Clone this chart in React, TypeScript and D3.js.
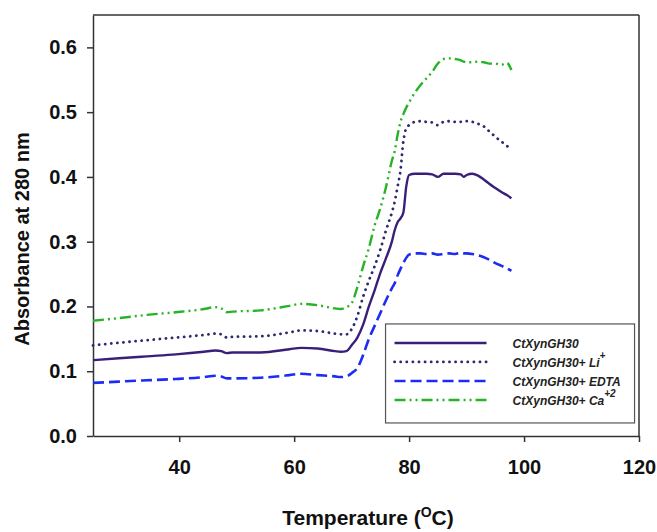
import React, { useEffect, useRef } from "react";
import * as d3 from "d3";

// temperature grid shared by every trace (degrees C)
const temps = [25, 29.5, 34.4, 39.4, 44.3, 46.3, 47.3, 48.3, 49.3, 54.2, 59.2, 61.2, 64.1, 67.1, 68.1, 69.1, 70, 71, 72, 73, 74, 75, 76, 77, 77.5, 78, 78.5, 79, 79.5, 80, 81, 82, 83, 84, 85, 86, 87, 88, 89, 89.5, 90, 91, 92, 93, 94, 95, 96, 97, 97.8];

const absNative = [0.117, 0.120, 0.123, 0.126, 0.130, 0.132, 0.131, 0.128, 0.129, 0.129, 0.134, 0.136, 0.135, 0.131, 0.130, 0.131, 0.140, 0.152, 0.172, 0.200, 0.225, 0.252, 0.275, 0.300, 0.318, 0.330, 0.336, 0.345, 0.385, 0.403, 0.405, 0.405, 0.405, 0.404, 0.400, 0.405, 0.405, 0.405, 0.404, 0.400, 0.403, 0.405, 0.402, 0.396, 0.389, 0.383, 0.377, 0.372, 0.367];
const absLi = [0.140, 0.144, 0.148, 0.152, 0.156, 0.158, 0.157, 0.152, 0.153, 0.154, 0.160, 0.163, 0.162, 0.158, 0.157, 0.157, 0.165, 0.185, 0.215, 0.240, 0.262, 0.288, 0.318, 0.345, 0.362, 0.385, 0.410, 0.455, 0.475, 0.480, 0.485, 0.486, 0.485, 0.484, 0.480, 0.485, 0.486, 0.485, 0.485, 0.486, 0.486, 0.485, 0.482, 0.478, 0.470, 0.462, 0.455, 0.448, 0.442];
const absEdta = [0.082, 0.084, 0.086, 0.088, 0.091, 0.093, 0.092, 0.089, 0.089, 0.090, 0.094, 0.096, 0.094, 0.092, 0.091, 0.092, 0.097, 0.105, 0.125, 0.150, 0.170, 0.190, 0.210, 0.228, 0.236, 0.248, 0.258, 0.267, 0.275, 0.280, 0.282, 0.282, 0.281, 0.282, 0.280, 0.281, 0.282, 0.281, 0.283, 0.282, 0.282, 0.281, 0.279, 0.276, 0.272, 0.267, 0.263, 0.259, 0.255];
const absCa = [0.178, 0.182, 0.187, 0.191, 0.196, 0.199, 0.197, 0.191, 0.192, 0.194, 0.201, 0.204, 0.202, 0.197, 0.196, 0.199, 0.205, 0.230, 0.262, 0.290, 0.325, 0.352, 0.385, 0.425, 0.440, 0.465, 0.485, 0.497, 0.507, 0.515, 0.530, 0.542, 0.552, 0.562, 0.575, 0.582, 0.583, 0.582, 0.580, 0.578, 0.577, 0.577, 0.578, 0.577, 0.575, 0.575, 0.573, 0.576, 0.565];

const xTicks = [40, 60, 80, 100, 120];
const yTicks = [0, 0.1, 0.2, 0.3, 0.4, 0.5, 0.6];

const seriesNames = ["CtXynGH30", "CtXynGH30+ Li", "CtXynGH30+ EDTA", "CtXynGH30+ Ca"];
const seriesSup = ["", "+", "", "+2"];

const App = () => {
  const ref = useRef<SVGSVGElement>(null);
  const W = 657, H = 532;
  const margin = { top: 15, right: 18, bottom: 96, left: 93 };

  useEffect(() => {
    const svg = d3.select(ref.current);
    svg.selectAll("*").remove();
    const width = W - margin.left - margin.right;
    const height = H - margin.top - margin.bottom;
    const font = "Arial, 'Liberation Sans', sans-serif";

    const x = d3.scaleLinear().domain([25, 120]).range([0, width]);
    const y = d3.scaleLinear().domain([0, 0.65]).range([height, 0]);

    const g = svg.append("g").attr("transform", `translate(${margin.left},${margin.top})`);

    // frame on top and right
    g.append("line").attr("x1", 0).attr("x2", width).attr("y1", 0).attr("y2", 0)
      .style("stroke", "#333").style("stroke-width", 1.5);
    g.append("line").attr("x1", width).attr("x2", width).attr("y1", 0).attr("y2", height)
      .style("stroke", "#333").style("stroke-width", 1.5);

    const xAxis = g.append("g").attr("transform", `translate(0,${height})`)
      .call(d3.axisBottom(x).tickValues(xTicks).tickSize(6).tickSizeOuter(0).tickPadding(18).tickFormat(d3.format("d")));
    const yAxis = g.append("g")
      .call(d3.axisLeft(y).tickValues(yTicks).tickSize(6).tickSizeOuter(0).tickPadding(10).tickFormat(d3.format(".1f")));

    [xAxis, yAxis].forEach(ax => {
      ax.select(".domain").style("stroke", "#333").style("stroke-width", 1.5);
      ax.selectAll(".tick line").style("stroke", "#333").style("stroke-width", 1.5);
      ax.selectAll(".tick text").style("font-family", font).style("font-size", "20px")
        .style("font-weight", "bold").style("fill", "#111");
    });

    const styles = [
      { color: "#3a1f78", dash: null, width: 2.4, cap: "butt" },
      { color: "#2c2a6c", dash: "0.1,6", width: 2.8, cap: "round" },
      { color: "#1c2cf2", dash: "11,5", width: 2.6, cap: "butt" },
      { color: "#27b327", dash: "11,4,2,4,2,4", width: 2.4, cap: "butt" },
    ];
    const allSeries = [absNative, absLi, absEdta, absCa];

    const line = d3.line<number>()
      .x((d, i) => x(temps[i]))
      .y(d => y(d))
      .curve(d3.curveMonotoneX);

    allSeries.forEach((vals, k) => {
      const s = styles[k];
      g.append("path")
        .datum(vals)
        .attr("d", line)
        .style("fill", "none")
        .style("stroke", s.color)
        .style("stroke-width", s.width)
        .style("stroke-linecap", s.cap)
        .style("stroke-dasharray", s.dash);
    });

    // legend
    const lg = g.append("g").attr("transform", `translate(${x(75.9)},${y(0.173)})`);
    lg.append("rect").attr("width", 249).attr("height", 99)
      .style("fill", "white").style("stroke", "#555").style("stroke-width", 1.2);
    const rowY = [19, 38, 57, 76];
    styles.forEach((s, k) => {
      lg.append("line").attr("x1", 9).attr("x2", 101).attr("y1", rowY[k]).attr("y2", rowY[k])
        .style("stroke", s.color).style("stroke-width", s.width)
        .style("stroke-linecap", s.cap).style("stroke-dasharray", s.dash);
      const t = lg.append("text").attr("x", 127).attr("y", rowY[k] + 5)
        .style("font-family", font).style("font-size", "12px").style("font-weight", "bold")
        .style("font-style", "italic").style("fill", "#222");
      t.append("tspan").text(seriesNames[k]);
      if (seriesSup[k]) {
        t.append("tspan").attr("dy", -8).style("font-size", "10px").text(seriesSup[k]);
      }
    });

    // axis titles
    svg.append("text")
      .attr("transform", `translate(29,239) rotate(-90)`)
      .attr("text-anchor", "middle")
      .style("font-family", font).style("font-size", "20px").style("font-weight", "bold").style("fill", "#111")
      .text("Absorbance at 280 nm");

    const xt = svg.append("text")
      .attr("x", 368).attr("y", 525)
      .attr("text-anchor", "middle")
      .style("font-family", font).style("font-size", "21px").style("font-weight", "bold").style("fill", "#111");
    xt.append("tspan").text("Temperature (");
    xt.append("tspan").attr("dy", -8).style("font-size", "14px").text("O");
    xt.append("tspan").attr("dy", 8).text("C)");
  }, []);

  return (
    <svg ref={ref} width={W} height={H} style={{ position: "absolute", left: 0, top: 0, background: "white" }} />
  );
};

export default App;
